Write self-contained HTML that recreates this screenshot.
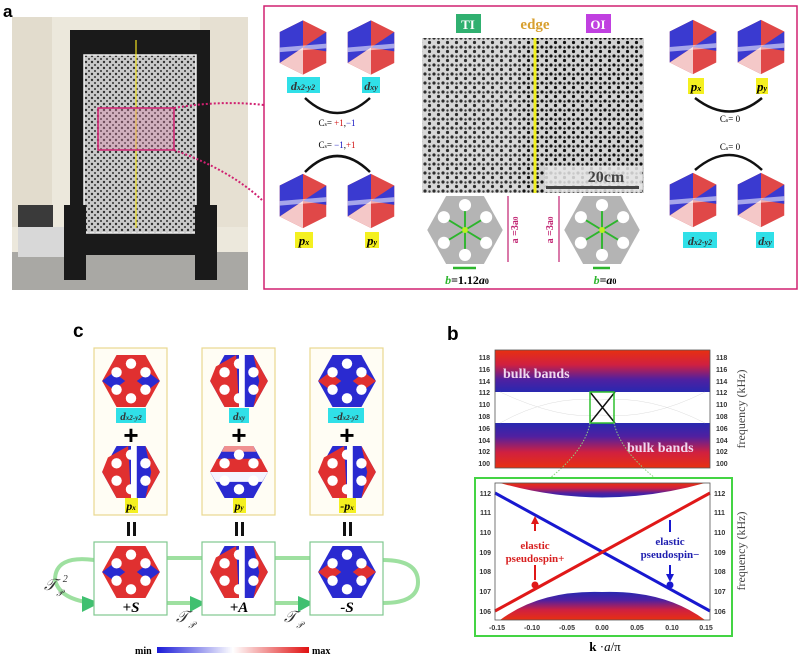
<!DOCTYPE html>
<html><head><meta charset="utf-8"><style>
body{margin:0;background:#fff;}
svg{display:block;font-family:"Liberation Serif",serif;}
.sans{font-family:"Liberation Sans",sans-serif;}
</style></head><body>
<svg width="800" height="660" viewBox="0 0 800 660" xmlns="http://www.w3.org/2000/svg">
<defs>
<pattern id="perf" width="6" height="6" patternUnits="userSpaceOnUse">
<rect width="6" height="6" fill="#c9c9c9"/><circle cx="2" cy="2" r="1.2" fill="#333"/><circle cx="5" cy="5" r="1" fill="#333"/></pattern>
<pattern id="perf2" width="9" height="9" patternUnits="userSpaceOnUse">
<rect width="9" height="9" fill="#d2d2d2"/><circle cx="2" cy="2" r="1.6" fill="#111"/><circle cx="6.5" cy="6.5" r="1.6" fill="#111"/><circle cx="6.5" cy="2.5" r="1.2" fill="#222"/></pattern>
<linearGradient id="rwb" x1="0" y1="0" x2="1" y2="0"><stop offset="0" stop-color="#1a1ad8"/><stop offset=".5" stop-color="#fff"/><stop offset="1" stop-color="#e01010"/></linearGradient>
<linearGradient id="bulkT" x1="0" y1="0" x2="0" y2="1"><stop offset="0" stop-color="#e83010"/><stop offset=".35" stop-color="#d02040"/><stop offset=".7" stop-color="#5020a0"/><stop offset="1" stop-color="#2828b0"/></linearGradient>
<linearGradient id="bulkB" x1="0" y1="1" x2="0" y2="0"><stop offset="0" stop-color="#e83010"/><stop offset=".35" stop-color="#d02040"/><stop offset=".7" stop-color="#5020a0"/><stop offset="1" stop-color="#2828b0"/></linearGradient>
<symbol id="modeA" viewBox="0 0 100 90">
<polygon points="25,0 75,0 100,45 75,90 25,90 0,45" fill="#e03030"/>
<path d="M0,45 L25,0 L45,0 Q40,30 55,45 Q40,60 45,90 L25,90Z" fill="#2a2ad0"/>
<circle cx="50" cy="15" r="9" fill="#fff"/><circle cx="50" cy="75" r="9" fill="#fff"/>
<circle cx="25" cy="30" r="9" fill="#fff"/><circle cx="75" cy="30" r="9" fill="#fff"/>
<circle cx="25" cy="60" r="9" fill="#fff"/><circle cx="75" cy="60" r="9" fill="#fff"/>
</symbol>
<symbol id="modeB" viewBox="0 0 100 90">
<polygon points="25,0 75,0 100,45 75,90 25,90 0,45" fill="#2a2ad0"/>
<path d="M12,22 L88,22 L100,45 L0,45Z" fill="#e03030"/>
<path d="M0,45 L100,45 L90,62 L10,62Z" fill="#f4f4ff"/>
<path d="M25,0 L75,0 L80,10 L20,10Z" fill="#f09090"/>
<circle cx="50" cy="15" r="9" fill="#fff"/><circle cx="50" cy="75" r="9" fill="#fff"/>
<circle cx="25" cy="30" r="9" fill="#fff"/><circle cx="75" cy="30" r="9" fill="#fff"/>
<circle cx="25" cy="60" r="9" fill="#fff"/><circle cx="75" cy="60" r="9" fill="#fff"/>
</symbol>
<symbol id="modeC" viewBox="0 0 100 90">
<polygon points="25,0 75,0 100,45 75,90 25,90 0,45" fill="#e03030"/>
<path d="M0,45 L20,30 L40,45 L20,60Z M60,45 L80,30 L100,45 L80,60Z" fill="#2a2ad0"/>
<circle cx="50" cy="15" r="9" fill="#fff"/><circle cx="50" cy="75" r="9" fill="#fff"/>
<circle cx="25" cy="30" r="9" fill="#fff"/><circle cx="75" cy="30" r="9" fill="#fff"/>
<circle cx="25" cy="60" r="9" fill="#fff"/><circle cx="75" cy="60" r="9" fill="#fff"/>
</symbol>
<symbol id="modeD" viewBox="0 0 100 90">
<polygon points="25,0 75,0 100,45 75,90 25,90 0,45" fill="#2a2ad0"/>
<path d="M0,45 L20,30 L40,45 L20,60Z M60,45 L80,30 L100,45 L80,60Z" fill="#e03030"/>
<circle cx="50" cy="15" r="9" fill="#fff"/><circle cx="50" cy="75" r="9" fill="#fff"/>
<circle cx="25" cy="30" r="9" fill="#fff"/><circle cx="75" cy="30" r="9" fill="#fff"/>
<circle cx="25" cy="60" r="9" fill="#fff"/><circle cx="75" cy="60" r="9" fill="#fff"/>
</symbol>
<symbol id="modeE" viewBox="0 0 100 90">
<polygon points="25,0 75,0 100,45 75,90 25,90 0,45" fill="#2a2ad0"/>
<path d="M10,20 L45,0 L50,90 L25,90 L0,45Z" fill="#e03030"/>
<path d="M50,0 L60,0 L60,90 L50,90Z" fill="#fff"/>
<path d="M75,0 L100,45 L75,90 L85,45Z" fill="#e03030"/>
<circle cx="50" cy="15" r="9" fill="#fff"/><circle cx="50" cy="75" r="9" fill="#fff"/>
<circle cx="25" cy="30" r="9" fill="#fff"/><circle cx="75" cy="30" r="9" fill="#fff"/>
<circle cx="25" cy="60" r="9" fill="#fff"/><circle cx="75" cy="60" r="9" fill="#fff"/>
</symbol>
<symbol id="hex3d" viewBox="0 0 80 70">
<polygon points="10,15 40,0 70,15 70,55 40,70 10,55" fill="#e04848"/>
<path d="M10,15 L40,0 L40,35 L10,55Z" fill="#3a3ad0"/>
<path d="M40,35 L70,15 L70,40 Z" fill="#3a3ad0"/>
<path d="M40,35 L40,70 L10,55Z" fill="#f4c8c8"/>
<path d="M10,35 L70,30 L70,36 L10,41Z" fill="#fff" fill-opacity=".55"/>
</symbol>
<symbol id="cell" viewBox="0 0 100 90">
<polygon points="25,0 75,0 100,45 75,90 25,90 0,45" fill="#b4b4b4"/>
<g stroke="#2cb52c" stroke-width="2.5"><line x1="50" y1="45" x2="50" y2="12"/><line x1="50" y1="45" x2="50" y2="78"/><line x1="50" y1="45" x2="22" y2="28"/><line x1="50" y1="45" x2="78" y2="28"/><line x1="50" y1="45" x2="22" y2="62"/><line x1="50" y1="45" x2="78" y2="62"/></g>
<g fill="#fff"><circle cx="50" cy="12" r="8"/><circle cx="50" cy="78" r="8"/><circle cx="22" cy="28" r="8"/><circle cx="78" cy="28" r="8"/><circle cx="22" cy="62" r="8"/><circle cx="78" cy="62" r="8"/></g>
<circle cx="50" cy="45" r="4" fill="#b8f020"/>
</symbol>
</defs>

<!-- Panel a -->
<text x="3" y="17" class="sans" font-size="17" font-weight="bold">a</text>
<rect x="12" y="17" width="236" height="273" fill="#ece8dc"/>
<rect x="12" y="17" width="40" height="210" fill="#e2dccd"/>
<rect x="200" y="17" width="48" height="210" fill="#e6e0d2"/>
<rect x="12" y="252" width="236" height="38" fill="#a9a8a4"/>
<rect x="18" y="205" width="35" height="22" fill="#3a3a3a"/>
<rect x="18" y="227" width="60" height="30" fill="#d8d8d8"/>
<rect x="70" y="30" width="140" height="225" fill="#1a1a1a"/>
<rect x="84" y="55" width="112" height="178" fill="url(#perf)" stroke="#eee" stroke-width="1.5"/>
<rect x="64" y="205" width="22" height="75" fill="#1a1a1a"/>
<rect x="195" y="205" width="22" height="75" fill="#1a1a1a"/>
<line x1="136" y1="40" x2="136" y2="228" stroke="#f0e020" stroke-width="1.2"/>
<rect x="98" y="108" width="76" height="42" fill="#e080a8" fill-opacity=".35" stroke="#d02070" stroke-width="1.5"/>
<path d="M174,108 Q220,100 264,105" stroke="#d02070" stroke-width="2" stroke-dasharray="2,2" fill="none"/>
<path d="M174,150 Q230,170 262,200" stroke="#d02070" stroke-width="2" stroke-dasharray="2,2" fill="none"/>

<rect x="264" y="6" width="533" height="283" fill="#fff" stroke="#d02070" stroke-width="1.5"/>
<use href="#hex3d" x="272" y="20" width="62" height="55"/>
<use href="#hex3d" x="340" y="20" width="62" height="55"/>
<rect x="287" y="77" width="33" height="16" fill="#30e0e8"/><text x="303" y="90" text-anchor="middle" font-size="12" font-style="italic" font-weight="bold" fill="#333">d<tspan font-size="8">x2-y2</tspan></text>
<rect x="362" y="77" width="18" height="16" fill="#30e0e8"/><text x="371" y="90" text-anchor="middle" font-size="12" font-style="italic" font-weight="bold" fill="#333">d<tspan font-size="8">xy</tspan></text>
<path d="M305,98 Q337,128 370,98" stroke="#111" stroke-width="2.5" fill="none"/>
<text x="337" y="126" text-anchor="middle" font-size="9">C<tspan font-size="6">s</tspan>= <tspan fill="#d01010">+1</tspan>,<tspan fill="#1010c0">−1</tspan></text>
<text x="337" y="148" text-anchor="middle" font-size="9">C<tspan font-size="6">s</tspan>= <tspan fill="#1010c0">−1</tspan>,<tspan fill="#d01010">+1</tspan></text>
<path d="M305,172 Q337,140 370,172" stroke="#111" stroke-width="2.5" fill="none"/>
<use href="#hex3d" x="272" y="172" width="62" height="58"/>
<use href="#hex3d" x="340" y="172" width="62" height="58"/>
<rect x="295" y="232" width="18" height="16" fill="#f4f020"/><text x="304" y="245" text-anchor="middle" font-size="13" font-style="italic" font-weight="bold">p<tspan font-size="8">x</tspan></text>
<rect x="365" y="232" width="14" height="16" fill="#f4f020"/><text x="372" y="245" text-anchor="middle" font-size="13" font-style="italic" font-weight="bold">p<tspan font-size="8">y</tspan></text>

<rect x="456" y="14" width="25" height="19" fill="#30b070"/><text x="468" y="29" text-anchor="middle" font-size="13" font-weight="bold" fill="#fff">TI</text>
<text x="535" y="29" text-anchor="middle" font-size="15" font-weight="bold" fill="#d8a030">edge</text>
<rect x="586" y="14" width="25" height="19" fill="#c040e0"/><text x="598" y="29" text-anchor="middle" font-size="13" font-weight="bold" fill="#fff">OI</text>
<rect x="422" y="38" width="222" height="155" fill="url(#perf2)"/>
<rect x="422" y="38" width="100" height="155" fill="#fff" fill-opacity=".12"/>
<line x1="535" y1="38" x2="535" y2="193" stroke="#f0f020" stroke-width="3"/>
<rect x="545" y="166" width="97" height="26" fill="#e8e8e8" fill-opacity=".85"/>
<text x="606" y="182" text-anchor="middle" font-size="16" font-weight="bold" fill="#444">20cm</text>
<rect x="546" y="186" width="93" height="3" fill="#444"/>
<use href="#cell" x="425" y="196" width="80" height="68"/>
<use href="#cell" x="562" y="196" width="80" height="68"/>
<line x1="508" y1="196" x2="508" y2="262" stroke="#c02070" stroke-width="1.2"/>
<line x1="559" y1="196" x2="559" y2="262" stroke="#c02070" stroke-width="1.2"/>
<text x="518" y="230" text-anchor="middle" font-size="10" font-weight="bold" fill="#c02070" transform="rotate(-90 518 230)">a =3a<tspan font-size="7">0</tspan></text>
<text x="553" y="230" text-anchor="middle" font-size="10" font-weight="bold" fill="#c02070" transform="rotate(-90 553 230)">a =3a<tspan font-size="7">0</tspan></text>
<line x1="453" y1="268" x2="476" y2="268" stroke="#2cb52c" stroke-width="2.5"/>
<line x1="593" y1="268" x2="610" y2="268" stroke="#2cb52c" stroke-width="2.5"/>
<text x="467" y="284" text-anchor="middle" font-size="12" font-weight="bold"><tspan fill="#2cb52c" font-style="italic">b</tspan>=1.12<tspan font-style="italic">a</tspan><tspan font-size="8">0</tspan></text>
<text x="605" y="284" text-anchor="middle" font-size="12" font-weight="bold"><tspan fill="#2cb52c" font-style="italic">b</tspan>=<tspan font-style="italic">a</tspan><tspan font-size="8">0</tspan></text>

<use href="#hex3d" x="662" y="18" width="62" height="58"/>
<use href="#hex3d" x="730" y="18" width="62" height="58"/>
<rect x="688" y="78" width="16" height="16" fill="#f4f020"/><text x="696" y="91" text-anchor="middle" font-size="13" font-style="italic" font-weight="bold">p<tspan font-size="8">x</tspan></text>
<rect x="756" y="78" width="12" height="16" fill="#f4f020"/><text x="762" y="91" text-anchor="middle" font-size="13" font-style="italic" font-weight="bold">p<tspan font-size="8">y</tspan></text>
<path d="M695,98 Q730,125 762,98" stroke="#111" stroke-width="2.5" fill="none"/>
<text x="730" y="122" text-anchor="middle" font-size="9">C<tspan font-size="6">s</tspan>= 0</text>
<text x="730" y="150" text-anchor="middle" font-size="9">C<tspan font-size="6">s</tspan>= 0</text>
<path d="M695,170 Q730,140 762,170" stroke="#111" stroke-width="2.5" fill="none"/>
<use href="#hex3d" x="662" y="172" width="62" height="56"/>
<use href="#hex3d" x="730" y="172" width="62" height="56"/>
<rect x="683" y="232" width="34" height="16" fill="#30e0e8"/><text x="700" y="245" text-anchor="middle" font-size="12" font-style="italic" font-weight="bold" fill="#333">d<tspan font-size="8">x2-y2</tspan></text>
<rect x="756" y="232" width="18" height="16" fill="#30e0e8"/><text x="765" y="245" text-anchor="middle" font-size="12" font-style="italic" font-weight="bold" fill="#333">d<tspan font-size="8">xy</tspan></text>

<!-- Panel c -->
<text x="73" y="337" class="sans" font-size="19" font-weight="bold">c</text>
<g fill="#fffdf4" stroke="#e8d890" stroke-width="1.2">
<rect x="94" y="348" width="73" height="167"/><rect x="202" y="348" width="73" height="167"/><rect x="310" y="348" width="73" height="167"/></g>
<use href="#modeC" x="102" y="355" width="58" height="52"/>
<use href="#modeE" x="210" y="355" width="58" height="52"/>
<use href="#modeD" x="318" y="355" width="58" height="52"/>
<rect x="116" y="408" width="30" height="15" fill="#30e0e8"/><text x="131" y="420" text-anchor="middle" font-size="11" font-style="italic" font-weight="bold" fill="#333">d<tspan font-size="7">x2-y2</tspan></text>
<rect x="229" y="408" width="20" height="15" fill="#30e0e8"/><text x="239" y="420" text-anchor="middle" font-size="11" font-style="italic" font-weight="bold" fill="#333">d<tspan font-size="7">xy</tspan></text>
<rect x="328" y="408" width="36" height="15" fill="#30e0e8"/><text x="346" y="420" text-anchor="middle" font-size="11" font-style="italic" font-weight="bold" fill="#333">-d<tspan font-size="7">x2-y2</tspan></text>
<g class="sans" font-size="26" font-weight="bold" text-anchor="middle"><text x="131" y="444">+</text><text x="239" y="444">+</text><text x="347" y="444">+</text></g>
<use href="#modeE" x="102" y="446" width="58" height="52"/>
<use href="#modeB" x="210" y="446" width="58" height="52"/>
<use href="#modeE" x="318" y="446" width="58" height="52"/>
<rect x="125" y="498" width="13" height="15" fill="#f4f020"/><text x="131" y="510" text-anchor="middle" font-size="12" font-style="italic" font-weight="bold">p<tspan font-size="7">x</tspan></text>
<rect x="233" y="498" width="13" height="15" fill="#f4f020"/><text x="239" y="510" text-anchor="middle" font-size="12" font-style="italic" font-weight="bold">p<tspan font-size="7">y</tspan></text>
<rect x="339" y="498" width="17" height="15" fill="#f4f020"/><text x="347" y="510" text-anchor="middle" font-size="12" font-style="italic" font-weight="bold">-p<tspan font-size="7">x</tspan></text>
<g fill="#111"><rect x="127" y="522" width="3" height="14"/><rect x="133" y="522" width="3" height="14"/><rect x="235" y="522" width="3" height="14"/><rect x="241" y="522" width="3" height="14"/><rect x="343" y="522" width="3" height="14"/><rect x="349" y="522" width="3" height="14"/></g>
<g stroke="#9ee0a0" stroke-width="4" fill="none">
<path d="M94,560 Q55,555 55,580 Q60,600 94,603"/>
<line x1="167" y1="558" x2="202" y2="558"/><line x1="275" y1="558" x2="310" y2="558"/>
<line x1="167" y1="603" x2="202" y2="603"/><line x1="275" y1="603" x2="310" y2="603"/>
<path d="M383,560 Q418,560 418,582 Q418,603 383,603"/></g>
<g fill="#40c070"><polygon points="82,596 100,603 82,612"/><polygon points="190,596 206,603 190,612"/><polygon points="298,596 314,603 298,612"/></g>
<g fill="#fff" stroke="#80c890" stroke-width="1.2">
<rect x="94" y="542" width="73" height="73"/><rect x="202" y="542" width="73" height="73"/><rect x="310" y="542" width="73" height="73"/></g>
<use href="#modeC" x="102" y="546" width="58" height="52"/>
<use href="#modeE" x="210" y="546" width="58" height="52"/>
<use href="#modeD" x="318" y="546" width="58" height="52"/>
<g font-size="15" font-weight="bold" font-style="italic" text-anchor="middle"><text x="131" y="612">+S</text><text x="239" y="612">+A</text><text x="347" y="612">-S</text></g>
<g font-size="16" font-style="italic" fill="#333"><text x="44" y="590">𝒯<tspan font-size="9" dy="6">𝒫</tspan><tspan font-size="10" dy="-14">2</tspan></text>
<text x="176" y="622">𝒯<tspan font-size="9" dy="6">𝒫</tspan></text><text x="284" y="622">𝒯<tspan font-size="9" dy="6">𝒫</tspan></text></g>
<text x="135" y="654" font-size="10" font-weight="bold">min</text>
<rect x="157" y="647" width="152" height="6" fill="url(#rwb)"/>
<text x="312" y="654" font-size="10" font-weight="bold">max</text>

<!-- Panel b -->
<text x="447" y="340" class="sans" font-size="19" font-weight="bold">b</text>
<rect x="495" y="350" width="215" height="42" fill="url(#bulkT)"/>
<rect x="495" y="423" width="215" height="45" fill="url(#bulkB)"/>
<g stroke="#ddd" stroke-width=".5" fill="none"><path d="M500,423 Q550,395 600,400 Q650,395 705,423"/><path d="M500,392 Q560,420 600,415 Q650,420 705,392"/></g>
<text x="503" y="378" font-size="14" font-weight="bold" fill="#f0d8f0">bulk bands</text>
<text x="627" y="452" font-size="14" font-weight="bold" fill="#f0d8f0">bulk bands</text>
<path d="M590,392 L615,423 M590,423 L615,392" stroke="#111" stroke-width="1.5"/>
<rect x="590" y="392" width="24" height="31" fill="none" stroke="#2ec02e" stroke-width="1.5"/>
<path d="M590,423 Q585,450 550,478 M614,423 Q620,450 655,478" stroke="#90d080" stroke-dasharray="1.5,1.5" fill="none"/>
<rect x="495" y="350" width="215" height="118" fill="none" stroke="#555" stroke-width=".8"/>
<g font-size="7" font-family="Liberation Sans" font-weight="bold" fill="#333">
<g text-anchor="end"><text x="490" y="360">118</text><text x="490" y="372">116</text><text x="490" y="384">114</text><text x="490" y="395">112</text><text x="490" y="407">110</text><text x="490" y="419">108</text><text x="490" y="431">106</text><text x="490" y="443">104</text><text x="490" y="454">102</text><text x="490" y="466">100</text></g>
<g><text x="716" y="360">118</text><text x="716" y="372">116</text><text x="716" y="384">114</text><text x="716" y="395">112</text><text x="716" y="407">110</text><text x="716" y="419">108</text><text x="716" y="431">106</text><text x="716" y="443">104</text><text x="716" y="454">102</text><text x="716" y="466">100</text></g></g>
<text x="745" y="409" text-anchor="middle" font-size="12" fill="#444" transform="rotate(-90 745 409)">frequency (kHz)</text>

<rect x="475" y="478" width="257" height="158" fill="#fff" stroke="#44d444" stroke-width="2"/>
<path d="M500,483 Q602,512 705,483Z" fill="url(#bulkT)"/>
<path d="M500,620 Q540,590 602,592 Q665,590 705,620Z" fill="url(#bulkB)"/>
<line x1="495" y1="493" x2="710" y2="611" stroke="#1818d0" stroke-width="3"/>
<line x1="495" y1="611" x2="710" y2="493" stroke="#e01818" stroke-width="3"/>
<circle cx="535" cy="585" r="3.5" fill="#e01818"/>
<circle cx="670" cy="585" r="3.5" fill="#1818d0"/>
<path d="M535,520 L535,531" stroke="#e01818" stroke-width="2"/><polygon points="531,524 535,516 539,524" fill="#e01818"/>
<path d="M535,565 L535,580" stroke="#e01818" stroke-width="2"/>
<path d="M670,520 L670,532" stroke="#1818d0" stroke-width="2"/>
<path d="M670,565 L670,576" stroke="#1818d0" stroke-width="2"/><polygon points="666,574 670,582 674,574" fill="#1818d0"/>
<text x="535" y="549" text-anchor="middle" font-size="11" font-weight="bold" fill="#d82020">elastic</text>
<text x="535" y="562" text-anchor="middle" font-size="11" font-weight="bold" fill="#d82020">pseudospin+</text>
<text x="670" y="545" text-anchor="middle" font-size="11" font-weight="bold" fill="#2020b0">elastic</text>
<text x="670" y="558" text-anchor="middle" font-size="11" font-weight="bold" fill="#2020b0">pseudospin−</text>
<rect x="495" y="483" width="215" height="137" fill="none" stroke="#555" stroke-width=".8"/>
<g font-size="7" font-family="Liberation Sans" font-weight="bold" fill="#333">
<g text-anchor="end"><text x="491" y="496">112</text><text x="491" y="515">111</text><text x="491" y="535">110</text><text x="491" y="555">109</text><text x="491" y="574">108</text><text x="491" y="594">107</text><text x="491" y="614">106</text></g>
<g><text x="714" y="496">112</text><text x="714" y="515">111</text><text x="714" y="535">110</text><text x="714" y="555">109</text><text x="714" y="574">108</text><text x="714" y="594">107</text><text x="714" y="614">106</text></g>
<g text-anchor="middle"><text x="497" y="630">-0.15</text><text x="532" y="630">-0.10</text><text x="567" y="630">-0.05</text><text x="602" y="630">0.00</text><text x="637" y="630">0.05</text><text x="672" y="630">0.10</text><text x="706" y="630">0.15</text></g></g>
<text x="745" y="551" text-anchor="middle" font-size="12" fill="#444" transform="rotate(-90 745 551)">frequency (kHz)</text>
<text x="605" y="651" text-anchor="middle" font-size="13" font-weight="bold">k <tspan font-weight="normal">·</tspan><tspan font-style="italic" font-weight="normal">a</tspan><tspan font-weight="normal">/π</tspan></text>
</svg>
</body></html>
